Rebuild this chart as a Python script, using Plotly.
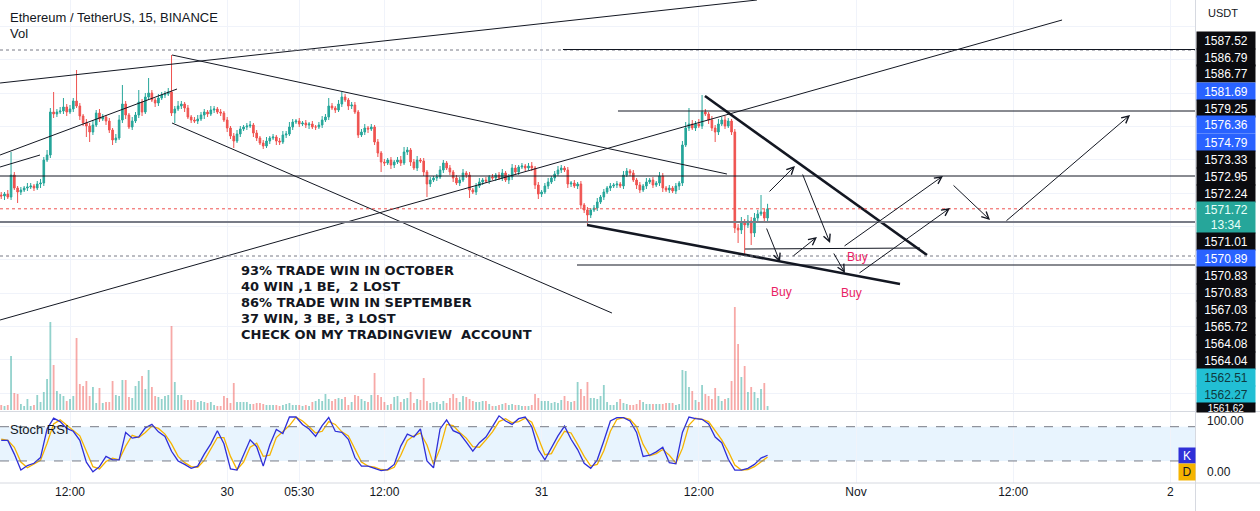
import plotly.graph_objects as go
from datetime import datetime, timedelta

# ---------------- data ----------------
ORIGIN = datetime(2022, 10, 29, 12, 0)      # reference for drawing coordinates (hours)
FIRST_BAR = datetime(2022, 10, 29, 6, 45)   # first 15-minute bar
first_open = 1573.1

closes = [
    1573.0, 1573.2, 1572.9, 1575.1, 1573.8, 1573.4, 1573.6, 1573.8, 1573.9, 1574.0,
    1573.8, 1574.2, 1574.3, 1576.6, 1577.1, 1581.4, 1581.2, 1581.4, 1581.5, 1581.9,
    1581.4, 1581.7, 1582.5, 1582.0, 1581.0, 1580.3, 1580.0, 1579.4, 1580.1, 1581.3,
    1580.7, 1580.9, 1580.5, 1579.6, 1578.6, 1578.8, 1580.6, 1582.2, 1581.1, 1579.9,
    1580.5, 1581.1, 1582.4, 1581.4, 1582.9, 1583.3, 1582.6, 1582.3, 1582.8, 1583.1,
    1583.2, 1583.4, 1581.3, 1581.7, 1582.0, 1582.2, 1581.8, 1580.9, 1580.6, 1580.5,
    1580.7, 1581.1, 1581.4, 1581.2, 1581.6, 1581.7, 1581.4, 1581.3, 1580.6, 1579.8,
    1579.0, 1578.5, 1579.2, 1579.7, 1579.9, 1580.0, 1580.1, 1579.3, 1578.8, 1578.3,
    1578.0, 1578.5, 1578.8, 1578.9, 1578.5, 1578.4, 1579.1, 1579.2, 1579.9, 1580.4,
    1580.5, 1580.2, 1580.3, 1580.1, 1580.2, 1579.9, 1579.9, 1580.1, 1580.6, 1580.9,
    1582.0, 1581.8, 1581.6, 1582.2, 1582.9, 1582.6, 1582.0, 1582.1, 1581.4, 1579.1,
    1579.4, 1579.8, 1579.7, 1579.9, 1578.4, 1577.3, 1576.4, 1576.3, 1576.6, 1576.1,
    1576.4, 1576.6, 1576.3, 1577.4, 1577.6, 1576.4, 1575.8, 1576.6, 1576.5, 1575.4,
    1574.2, 1574.6, 1574.8, 1574.9, 1575.6, 1576.3, 1575.8, 1575.4, 1574.8, 1574.3,
    1574.6, 1575.3, 1575.1, 1573.6, 1573.4, 1574.0, 1574.4, 1574.6, 1574.5, 1574.9,
    1574.8, 1575.1, 1574.8, 1575.3, 1574.6, 1574.9, 1575.8, 1575.4, 1575.9, 1576.0,
    1575.8, 1576.0, 1575.8, 1574.1, 1573.2, 1573.4, 1574.0, 1574.4, 1574.8, 1575.2,
    1575.6, 1575.8, 1575.6, 1574.2, 1574.3, 1574.0, 1574.2, 1572.1, 1571.6, 1571.1,
    1571.6, 1571.8, 1572.4, 1572.9, 1573.4, 1573.8, 1574.0, 1574.1, 1574.2, 1574.0,
    1575.1, 1575.5, 1575.3, 1574.6, 1574.1, 1573.6, 1574.0, 1574.4, 1574.6, 1574.1,
    1574.3, 1575.0, 1573.8, 1573.6, 1573.8, 1573.5, 1574.0, 1574.3, 1578.1, 1579.8,
    1580.2, 1579.8, 1580.2, 1580.0, 1581.4, 1581.2, 1580.6, 1579.8, 1579.4, 1580.2,
    1580.6, 1580.0, 1580.5, 1579.4, 1569.8, 1569.6, 1570.4, 1570.1, 1570.5, 1569.3,
    1570.8, 1571.2, 1571.4, 1570.8, 1571.72,
]

up_wick = [
    0.3, 0.2, 0.4, 2.3, 0.3, 0.2, 0.3, 0.2, 0.4, 0.3,
    0.2, 0.3, 0.4, 0.3, 0.5, 0.4, 2.0, 0.3, 0.4, 0.9,
    0.3, 0.4, 0.3, 3.1, 0.3, 0.2, 0.4, 0.3, 0.5, 0.3,
    0.4, 0.3, 0.2, 0.3, 0.2, 0.4, 0.5, 1.9, 0.3, 0.2,
    0.4, 0.3, 1.2, 0.3, 0.4, 1.5, 0.3, 0.2, 0.4, 0.3,
    0.3, 0.4, 3.7, 0.3, 0.5, 0.3, 0.2, 0.3, 0.2, 0.3,
    0.4, 0.3, 0.3, 0.2, 0.4, 0.3, 0.2, 0.3, 0.2, 0.3,
    0.2, 0.3, 0.4, 0.3, 0.2, 0.3, 0.4, 0.2, 0.3, 0.2,
    0.3, 0.4, 0.2, 0.3, 0.2, 0.3, 0.4, 0.3, 0.5, 0.3,
    0.2, 0.3, 0.2, 0.3, 0.2, 0.3, 0.2, 0.3, 0.4, 0.3,
    0.8, 0.3, 0.2, 0.4, 0.5, 0.3, 0.2, 0.3, 0.3, 0.2,
    0.3, 0.4, 0.2, 0.3, 0.2, 0.3, 0.2, 0.3, 0.2, 0.3,
    0.2, 0.3, 0.4, 0.5, 0.3, 0.2, 0.3, 0.4, 0.2, 0.3,
    0.2, 0.3, 0.2, 0.3, 0.4, 0.3, 0.2, 0.3, 0.2, 0.3,
    0.3, 0.4, 0.2, 0.3, 0.2, 0.3, 0.4, 0.2, 0.3, 0.2,
    0.3, 0.2, 0.3, 0.4, 0.2, 0.3, 0.4, 0.3, 0.2, 0.3,
    0.2, 0.3, 0.4, 0.2, 0.3, 0.2, 0.3, 0.4, 0.2, 0.3,
    0.4, 0.3, 0.2, 0.3, 0.2, 0.3, 0.2, 0.3, 0.2, 0.3,
    0.2, 0.3, 0.4, 0.2, 0.3, 0.2, 0.3, 0.2, 0.3, 0.2,
    0.4, 0.3, 0.2, 0.3, 0.2, 0.3, 0.2, 0.4, 0.2, 0.3,
    0.2, 0.4, 0.3, 0.2, 0.3, 0.2, 0.3, 0.2, 0.4, 0.6,
    1.6, 0.4, 0.3, 0.5, 1.7, 0.3, 0.2, 0.4, 0.3, 0.5,
    0.3, 0.4, 0.3, 0.2, 0.3, 0.4, 0.5, 0.3, 0.6, 0.4,
    0.5, 0.4, 1.7, 0.3, 0.5,
]

dn_wick = [
    0.3, 0.4, 0.2, 0.3, 0.2, 1.1, 0.3, 0.2, 0.3, 0.2,
    0.3, 0.2, 0.4, 0.3, 0.2, 0.3, 0.4, 0.3, 0.2, 0.3,
    0.4, 0.2, 0.3, 0.2, 0.4, 0.3, 1.1, 1.0, 0.3, 0.2,
    0.3, 0.2, 0.4, 0.3, 0.5, 0.3, 0.2, 0.3, 0.4, 0.2,
    0.3, 0.2, 0.3, 0.4, 0.2, 0.3, 0.2, 0.4, 0.3, 0.2,
    0.3, 0.2, 0.3, 1.0, 0.2, 0.3, 0.4, 0.2, 0.3, 0.2,
    0.3, 0.2, 0.4, 0.3, 0.2, 0.3, 0.2, 0.3, 0.2, 0.4,
    0.3, 0.7, 0.2, 0.3, 0.2, 0.3, 0.2, 0.4, 0.3, 0.2,
    0.3, 0.2, 0.3, 0.2, 0.4, 0.3, 0.2, 0.3, 0.2, 0.3,
    0.2, 0.3, 0.2, 0.3, 0.4, 0.2, 0.3, 0.2, 0.3, 0.2,
    0.3, 0.2, 0.3, 0.2, 0.3, 0.2, 0.4, 0.3, 0.2, 0.3,
    0.2, 0.3, 0.4, 0.2, 0.3, 0.4, 1.0, 0.3, 0.2, 0.4,
    0.3, 0.2, 0.3, 0.2, 0.3, 0.4, 0.2, 0.3, 0.2, 0.4,
    1.3, 0.3, 0.2, 0.3, 0.2, 0.3, 0.2, 0.3, 0.4, 0.2,
    0.3, 0.2, 0.3, 0.8, 0.2, 0.3, 0.2, 0.3, 0.2, 0.3,
    0.2, 0.3, 0.2, 0.3, 0.2, 0.4, 0.3, 0.2, 0.3, 0.2,
    0.3, 0.2, 0.3, 0.4, 0.5, 0.3, 0.2, 0.3, 0.2, 0.3,
    0.2, 0.3, 0.2, 0.4, 0.3, 0.2, 0.3, 0.4, 0.3, 1.0,
    0.3, 0.2, 0.3, 0.2, 0.3, 0.2, 0.3, 0.2, 0.3, 0.2,
    0.3, 0.2, 0.3, 0.2, 0.4, 0.3, 0.2, 0.3, 0.2, 0.3,
    0.2, 0.3, 0.4, 0.2, 0.3, 0.2, 0.3, 0.4, 0.3, 0.2,
    0.3, 0.2, 0.3, 0.2, 0.3, 0.2, 0.4, 0.3, 1.0, 0.3,
    0.2, 0.3, 0.2, 0.3, 0.5, 1.3, 0.4, 3.0, 0.3, 1.2,
    0.4, 0.3, 0.2, 0.5, 0.3,
]

volumes = [
    5, 4, 5, 54, 17, 16, 6, 4, 11, 4,
    5, 15, 8, 18, 31, 88, 45, 19, 16, 14,
    9, 11, 14, 72, 26, 24, 29, 14, 23, 7,
    22, 7, 8, 8, 29, 15, 14, 30, 30, 13,
    12, 24, 29, 34, 21, 40, 23, 14, 13, 11,
    14, 15, 84, 28, 15, 15, 10, 10, 10, 10,
    8, 9, 8, 7, 8, 5, 4, 4, 14, 12,
    7, 27, 8, 8, 8, 8, 6, 6, 7, 7,
    6, 5, 5, 5, 5, 4, 5, 6, 7, 5,
    5, 5, 4, 5, 4, 8, 9, 11, 9, 16,
    11, 9, 11, 12, 11, 13, 5, 8, 15, 14,
    11, 9, 8, 15, 37, 15, 13, 8, 5, 6,
    13, 14, 8, 11, 12, 18, 7, 11, 10, 32,
    9, 7, 8, 8, 6, 9, 7, 12, 16, 12,
    8, 14, 13, 11, 9, 8, 8, 9, 9, 6,
    4, 4, 5, 6, 7, 5, 6, 5, 5, 4,
    4, 4, 5, 16, 12, 9, 9, 9, 7, 8,
    7, 10, 14, 9, 8, 9, 28, 21, 14, 28,
    12, 12, 11, 14, 25, 8, 5, 5, 8, 11,
    7, 6, 5, 5, 6, 10, 8, 6, 6, 6,
    6, 6, 6, 7, 7, 7, 5, 6, 40, 39,
    23, 19, 10, 8, 25, 16, 14, 11, 22, 14,
    9, 11, 12, 29, 103, 66, 33, 44, 18, 23,
    18, 12, 21, 27, 4,
]

# Stoch RSI, sampled every 30 minutes from the first bar
stoch_k = [
    56, 56, 32, 4, 12, 16, 26, 76, 95, 89,
    77, 72, 56, 18, 1, 10, 28, 22, 22, 70,
    60, 62, 78, 84, 71, 63, 37, 20, 14, 7,
    11, 32, 50, 73, 50, 6, 4, 32, 57, 45,
    11, 48, 75, 68, 97, 97, 84, 76, 63, 82,
    96, 72, 70, 58, 26, 11, 11, 7, 3, 5,
    14, 46, 67, 62, 76, 20, 8, 76, 92, 73,
    68, 53, 37, 52, 62, 80, 99, 90, 84, 94,
    97, 80, 40, 22, 44, 64, 81, 58, 40, 16,
    7, 22, 55, 90, 96, 96, 90, 70, 28, 30,
    36, 44, 17, 15, 70, 97, 94, 93, 85, 62,
    52, 23, 4, 4, 7, 14, 25, 30,
]
stoch_d = [
    58, 56, 44, 18, 8, 14, 21, 51, 85, 92,
    83, 74, 64, 37, 10, 6, 19, 25, 22, 46,
    65, 61, 70, 81, 77, 67, 50, 28, 17, 10,
    9, 21, 41, 61, 61, 28, 5, 18, 44, 51,
    28, 30, 61, 71, 82, 97, 90, 80, 69, 72,
    89, 84, 71, 64, 42, 18, 11, 9, 5, 4,
    9, 30, 56, 64, 69, 48, 14, 42, 84, 82,
    70, 60, 45, 44, 57, 71, 89, 94, 87, 89,
    95, 88, 60, 31, 33, 54, 72, 69, 49, 28,
    11, 14, 38, 72, 93, 96, 93, 80, 49, 29,
    33, 40, 30, 16, 42, 83, 95, 93, 89, 73,
    57, 37, 13, 4, 5, 10, 19, 27,
]

tick_times = [datetime(2022, 10, 29, 12), datetime(2022, 10, 30, 0), datetime(2022, 10, 30, 5, 30),
              datetime(2022, 10, 30, 12), datetime(2022, 10, 31, 0), datetime(2022, 10, 31, 12),
              datetime(2022, 11, 1, 0), datetime(2022, 11, 1, 12), datetime(2022, 11, 2, 0)]
tick_text = ['12:00', '30', '05:30', '12:00', '31', '12:00', 'Nov', '12:00', '2']

stoch_levels = [0, 100]
stoch_level_text = ['0.00', '100.00']

# drawings: (hours from ORIGIN, price) endpoints
thin_trend_lines = [
    ((-5.34, 1584.3), (52.44, 1592.6)),
    ((7.79, 1587.1), (50.15, 1575.2)),
    ((-5.34, 1577.1), (8.17, 1583.7)),
    ((-5.34, 1575.9), (-2.29, 1577.1)),
    ((7.79, 1580.3), (41.37, 1561.3)),
    ((-5.34, 1560.6), (75.73, 1590.6)),
    ((51.53, 1567.7), (64.89, 1567.8)),
]
thick_trend_lines = [
    ((48.47, 1583.0), (65.42, 1567.1)),
    ((39.47, 1570.1), (63.36, 1564.2)),
]
# horizontal rays: (start hour or None for full width, price, colour, dash, width)
horizontal_levels = [
    (None, 1587.6, '#787b86', 'dot', 1),
    (37.63, 1587.65, '#131722', 'solid', 1),
    (41.83, 1581.5, '#131722', 'solid', 1),
    (None, 1575.0, '#131722', 'solid', 1),
    (None, 1570.4, '#787b86', 'solid', 2),
    (None, 1567.0, '#787b86', 'dot', 1),
    (38.70, 1566.1, '#131722', 'solid', 1.2),
]
# arrows: (tail hour, tail price, head hour, head price)
arrows = [
    (53.28, 1573.3, 55.34, 1576.0),
    (53.13, 1569.9, 54.20, 1566.4),
    (55.11, 1566.9, 57.02, 1568.9),
    (55.88, 1575.3, 58.02, 1568.3),
    (58.24, 1567.4, 59.16, 1565.3),
    (59.01, 1567.9, 66.64, 1575.0),
    (60.15, 1565.2, 67.18, 1571.8),
    (67.33, 1574.2, 70.23, 1570.6),
    (71.37, 1570.4, 80.92, 1581.1),
]
buy_labels = [(54.35, 1563.4), (59.69, 1563.3), (60.15, 1566.9)]

info_lines = ['93% TRADE WIN IN OCTOBER', '40 WIN ,1 BE,  2 LOST', '86% TRADE WIN IN SEPTEMBER',
              '37 WIN, 3 BE, 3 LOST', 'CHECK ON MY TRADINGVIEW  ACCOUNT']

price_labels = [
    ('1587.52', 'k'), ('1586.79', 'k'), ('1586.77', 'k'), ('1581.69', 'b'), ('1579.25', 'k'),
    ('1576.36', 'b'), ('1574.79', 'b'), ('1573.33', 'k'), ('1572.95', 'k'), ('1572.24', 'k'),
    ('1571.72<br>13:34', 't'), ('1571.01', 'k'), ('1570.89', 'b'), ('1570.83', 'k'), ('1570.83', 'k'),
    ('1567.03', 'k'), ('1565.72', 'k'), ('1564.08', 'k'), ('1564.04', 'k'), ('1562.51', 'c'),
    ('1562.27', 'c'), ('1561.62', 'k'),
]

# ---------------- figure ----------------
W, H = 1260, 511
PLOT_W, PLOT_H = 1195, 483
UP, DN = '#26a69a', '#ef5350'
FONT = 'Liberation Sans'
STOCH_RANGE = [-18.6, 107.5]
STOCH_DOMAIN = [0, 72 / PLOT_H]


def at(h):
    return ORIGIN + timedelta(hours=h)


def px(xp):
    return xp / PLOT_W


def py(yp):
    return 1 - yp / PLOT_H


def stoch_paper(v):
    frac = (v - STOCH_RANGE[0]) / (STOCH_RANGE[1] - STOCH_RANGE[0])
    return STOCH_DOMAIN[0] + frac * (STOCH_DOMAIN[1] - STOCH_DOMAIN[0])


times = [FIRST_BAR + timedelta(minutes=15 * i) for i in range(len(closes))]
opens = [first_open] + closes[:-1]
highs = [max(o, c) + w for o, c, w in zip(opens, closes, up_wick)]
lows = [min(o, c) - w for o, c, w in zip(opens, closes, dn_wick)]
vol_colors = ['rgba(38,166,154,0.5)' if c >= o else 'rgba(239,83,80,0.5)' for o, c in zip(opens, closes)]
stoch_times = [FIRST_BAR + timedelta(minutes=30 * k) for k in range(len(stoch_k))]

x_start, x_end = at(-5.3435), at(85.878)

fig = go.Figure()
fig.add_trace(go.Bar(x=times, y=volumes, marker=dict(color=vol_colors, line=dict(width=0)),
                     width=15 * 60 * 1000 * 0.55, xaxis='x', yaxis='y', hoverinfo='skip'))
fig.add_trace(go.Candlestick(x=times, open=opens, high=highs, low=lows, close=closes,
                             increasing=dict(line=dict(color=UP, width=1), fillcolor=UP),
                             decreasing=dict(line=dict(color=DN, width=1), fillcolor=DN),
                             whiskerwidth=0, xaxis='x', yaxis='y3'))
fig.add_trace(go.Scatter(x=stoch_times, y=stoch_d, mode='lines', line=dict(color='#f5b400', width=1.3),
                         xaxis='x', yaxis='y2'))
fig.add_trace(go.Scatter(x=stoch_times, y=stoch_k, mode='lines', line=dict(color='#2f2fd8', width=1.3),
                         xaxis='x', yaxis='y2'))

shapes = []
# stoch band + levels
shapes.append(dict(type='rect', xref='paper', yref='y2', x0=0, x1=1, y0=20, y1=80,
                   fillcolor='rgba(33,150,243,0.1)', line=dict(width=0), layer='below'))
for lvl in (20, 80):
    shapes.append(dict(type='line', xref='paper', yref='y2', x0=0, x1=1, y0=lvl, y1=lvl,
                       line=dict(color='#787b86', width=1, dash='dash')))
# drawings
for (h0, p0), (h1, p1) in thin_trend_lines:
    shapes.append(dict(type='line', xref='x', yref='y3', x0=at(h0), y0=p0, x1=at(h1), y1=p1,
                       line=dict(color='#131722', width=1)))
for (h0, p0), (h1, p1) in thick_trend_lines:
    shapes.append(dict(type='line', xref='x', yref='y3', x0=at(h0), y0=p0, x1=at(h1), y1=p1,
                       line=dict(color='#131722', width=2.6)))
for h0, p, col, dash, wd in horizontal_levels:
    x0 = x_start if h0 is None else at(h0)
    shapes.append(dict(type='line', xref='x', yref='y3', x0=x0, x1=x_end, y0=p, y1=p,
                       line=dict(color=col, width=wd, dash=dash)))
# current price line
shapes.append(dict(type='line', xref='x', yref='y3', x0=x_start, x1=x_end, y0=closes[-1], y1=closes[-1],
                   line=dict(color=DN, width=1, dash='dot')))
# pane borders
shapes.append(dict(type='line', xref='paper', yref='paper', x0=0, x1=W / PLOT_W, y0=py(411.5), y1=py(411.5),
                   line=dict(color='#d6d9e0', width=1)))
shapes.append(dict(type='line', xref='paper', yref='paper', x0=0, x1=W / PLOT_W, y0=py(483), y1=py(483),
                   line=dict(color='#d6d9e0', width=1)))
shapes.append(dict(type='line', xref='paper', yref='paper', x0=px(1195.5), x1=px(1195.5), y0=py(0), y1=py(511),
                   line=dict(color='#d6d9e0', width=1)))

ann = []
ann.append(dict(xref='paper', yref='paper', x=px(8), y=py(17), xanchor='left', yanchor='middle',
                text='Ethereum / TetherUS, 15, BINANCE', showarrow=False,
                font=dict(family=FONT, size=13, color='#131722')))
ann.append(dict(xref='paper', yref='paper', x=px(8), y=py(33), xanchor='left', yanchor='middle',
                text='Vol', showarrow=False, font=dict(family=FONT, size=13, color='#131722')))
ann.append(dict(xref='paper', yref='paper', x=px(8), y=py(429), xanchor='left', yanchor='middle',
                text='Stoch RSI', showarrow=False, font=dict(family=FONT, size=13, color='#131722')))
for k, line in enumerate(info_lines):
    ann.append(dict(xref='paper', yref='paper', x=px(239), y=py(270 + 16 * k), xanchor='left',
                    yanchor='middle', text=line, showarrow=False,
                    font=dict(family='DejaVu Sans', size=13, color='#131722', weight='bold')))
for h, p in buy_labels:
    ann.append(dict(xref='x', yref='y3', x=at(h), y=p, text='Buy', showarrow=False,
                    font=dict(family=FONT, size=12, color='#e91e63')))
for h0, p0, h1, p1 in arrows:
    ann.append(dict(xref='x', yref='y3', axref='x', ayref='y3', x=at(h1), y=p1, ax=at(h0), ay=p0,
                    text='', showarrow=True, arrowhead=5, arrowsize=1.4, arrowwidth=1,
                    arrowcolor='#131722', standoff=0, startstandoff=0))

# right axis labels (stacked like the TradingView price scale)
bg = {'k': '#0b0b0f', 'b': '#2962ff', 't': '#26a69a', 'c': '#22bfd4'}
fg = {'k': '#ffffff', 'b': '#ffffff', 't': '#e8fff9', 'c': '#0e3940'}
top = 30.5
for text, kind in price_labels:
    hgt = 31 if '<br>' in text else 17
    fsize = 12
    if text == '1561.62':          # last label, cut by the pane border
        hgt, fsize = 9, 10
    ann.append(dict(xref='paper', yref='paper', x=px(1196), y=py(top), xanchor='left', yanchor='top',
                    width=58, height=hgt, borderpad=0, bgcolor=bg[kind], text=text, showarrow=False,
                    valign='top' if hgt == 9 else 'middle', align='center',
                    font=dict(family=FONT, size=fsize, color=fg[kind])))
    top += hgt
# stoch scale labels
for v, t in zip(stoch_levels, stoch_level_text):
    ann.append(dict(xref='paper', yref='paper', x=px(1205), y=stoch_paper(v) if v == 0 else py(411.5),
                    xanchor='left', yanchor='middle' if v == 0 else 'top', text=t, showarrow=False,
                    font=dict(family=FONT, size=12, color='#131722')))
ann.append(dict(xref='paper', yref='paper', x=px(1206), y=py(13), xanchor='left', yanchor='middle',
                text='USDT', showarrow=False, font=dict(family=FONT, size=11, color='#131722')))
ann.append(dict(xref='paper', yref='paper', x=px(1178), y=py(447), xanchor='left', yanchor='top',
                width=16, height=15, borderpad=0, bgcolor='#2f2fd8', text='K', showarrow=False,
                font=dict(family=FONT, size=12, color='#ffffff')))
ann.append(dict(xref='paper', yref='paper', x=px(1178), y=py(463), xanchor='left', yanchor='top',
                width=16, height=16, borderpad=0, bgcolor='#f5b400', text='D', showarrow=False,
                font=dict(family=FONT, size=12, color='#131722')))

fig.update_layout(
    width=W, height=H, margin=dict(l=0, r=W - PLOT_W, t=0, b=H - PLOT_H),
    paper_bgcolor='white', plot_bgcolor='white', showlegend=False,
    xaxis=dict(type='date', range=[x_start, x_end], tickvals=tick_times, ticktext=tick_text,
               showgrid=True, gridcolor='#f0f3fa', zeroline=False, showline=False, ticks='',
               tickfont=dict(family=FONT, size=12, color='#131722'), rangeslider=dict(visible=False),
               anchor='y2'),
    yaxis=dict(domain=[73 / PLOT_H, 1], range=[0, 410], showticklabels=False, showgrid=True,
               gridcolor='#f0f3fa', tick0=17, dtick=33.333, zeroline=False, anchor='x'),
    yaxis3=dict(overlaying='y', range=[1551.6, 1592.6], showticklabels=False, showgrid=False,
                zeroline=False, side='right', anchor='x'),
    yaxis2=dict(domain=STOCH_DOMAIN, range=STOCH_RANGE, side='right', showticklabels=False,
                showgrid=False, zeroline=False, ticks='', anchor='x'),
    shapes=shapes, annotations=ann,
)

fig.write_html('out.html')
